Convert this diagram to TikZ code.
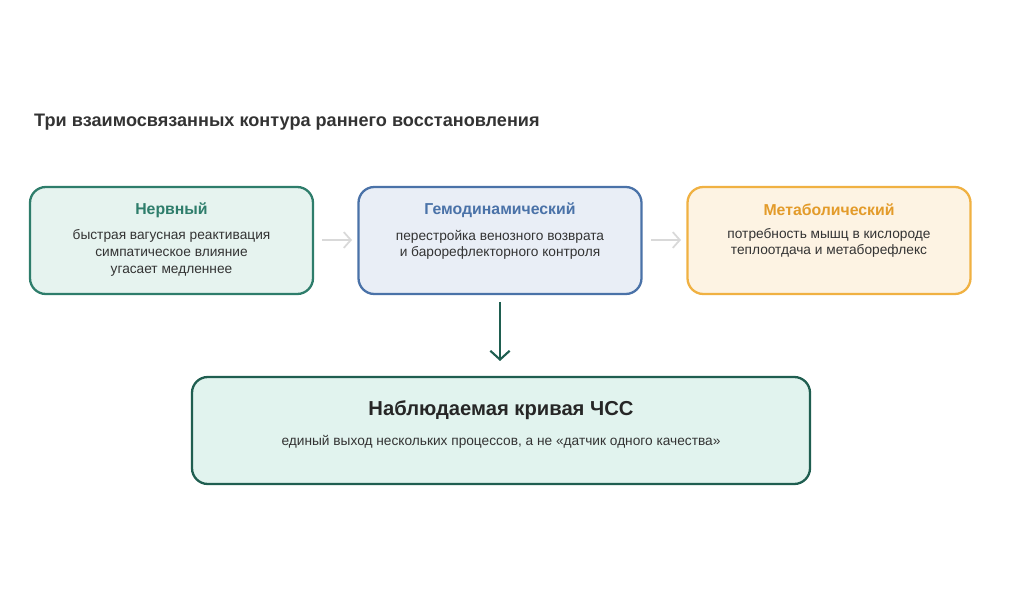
\documentclass[tikz,border=0pt]{standalone}
\usepackage{fontspec}
\setmainfont{Liberation Sans}
\usetikzlibrary{positioning, arrows.meta}
\definecolor{nervline}{HTML}{2E7D6B}
\definecolor{nervfill}{HTML}{E6F3EF}
\definecolor{hemoline}{HTML}{4A72A8}
\definecolor{hemofill}{HTML}{E9EEF6}
\definecolor{metaline}{HTML}{F0B142}
\definecolor{metafill}{HTML}{FDF3E3}
\definecolor{metatext}{HTML}{E39B2A}
\definecolor{outfill}{HTML}{E1F3EE}
\definecolor{outline}{HTML}{1F5E50}
\definecolor{bodytext}{HTML}{333333}
\newlength{\px}
\setlength{\px}{0.02cm}
\tikzset{
  box/.style = {rounded corners=9pt, line width=1.3pt, minimum width=283\px, minimum height=107\px},
  head/.style = {font=\bfseries\fontsize{9}{10}\selectfont},
  body/.style = {font=\fontsize{7.8}{9.4}\selectfont, text=bodytext, align=center},
  soft/.style = {-{Straight Barb[length=4pt,width=9pt]}, draw=gray!30, line width=1pt}
}
\begin{document}
\begin{tikzpicture}[x=0.02cm, y=-0.02cm]
    \useasboundingbox (0, 0) rectangle (1024, 614);
    \node [anchor=west, font=\bfseries\fontsize{10.3}{12}\selectfont, text=black!80] (title) at (28, 122) {Три взаимосвязанных контура раннего восстановления};

    \node [box, draw=nervline, fill=nervfill] (nerv) at (171.5, 240.5) {};
    \node [box, draw=hemoline, fill=hemofill] (hemo) at (500, 240.5) {};
    \node [box, draw=metaline, fill=metafill] (meta) at (829, 240.5) {};
    \node [box, draw=outline, fill=outfill, minimum width=618\px] (out) at (501, 430.5) {};

    \node [head, text=nervline] (nervhead) at (171.5, 210) {Нервный};
    \node [body, below=0pt of nervhead] {быстрая вагусная реактивация\\симпатическое влияние\\угасает медленнее};
    \node [head, text=hemoline] (hemohead) at (500, 210) {Гемодинамический};
    \node [body, below=0pt of hemohead] {перестройка венозного возврата\\и барорефлекторного контроля};
    \node [head, text=metatext] (metahead) at (829, 210) {Метаболический};
    \node [body, below=0pt of metahead] {потребность мышц в кислороде\\теплоотдача и метаборефлекс};

    \node [font=\bfseries\fontsize{11.5}{13}\selectfont, text=black!85] (outhead) at (501, 410) {Наблюдаемая кривая ЧСС};
    \node [body] (outbody) at (501, 442) {единый выход нескольких процессов, а не «датчик одного качества»};

    \coordinate (a1) at (322, 240);
    \coordinate (b1) at (352, 240);
    \coordinate (a2) at (651, 240);
    \coordinate (b2) at (681, 240);
    \coordinate (d) at (500, 302);
    \coordinate (e) at (500, 361);
    \draw [soft] (a1) -- (b1);
    \draw [soft] (a2) -- (b2);
    \draw [-{Straight Barb[length=5pt,width=11pt]}, draw=outline, line width=1.2pt] (d) -- (e);
\end{tikzpicture}
\end{document}
